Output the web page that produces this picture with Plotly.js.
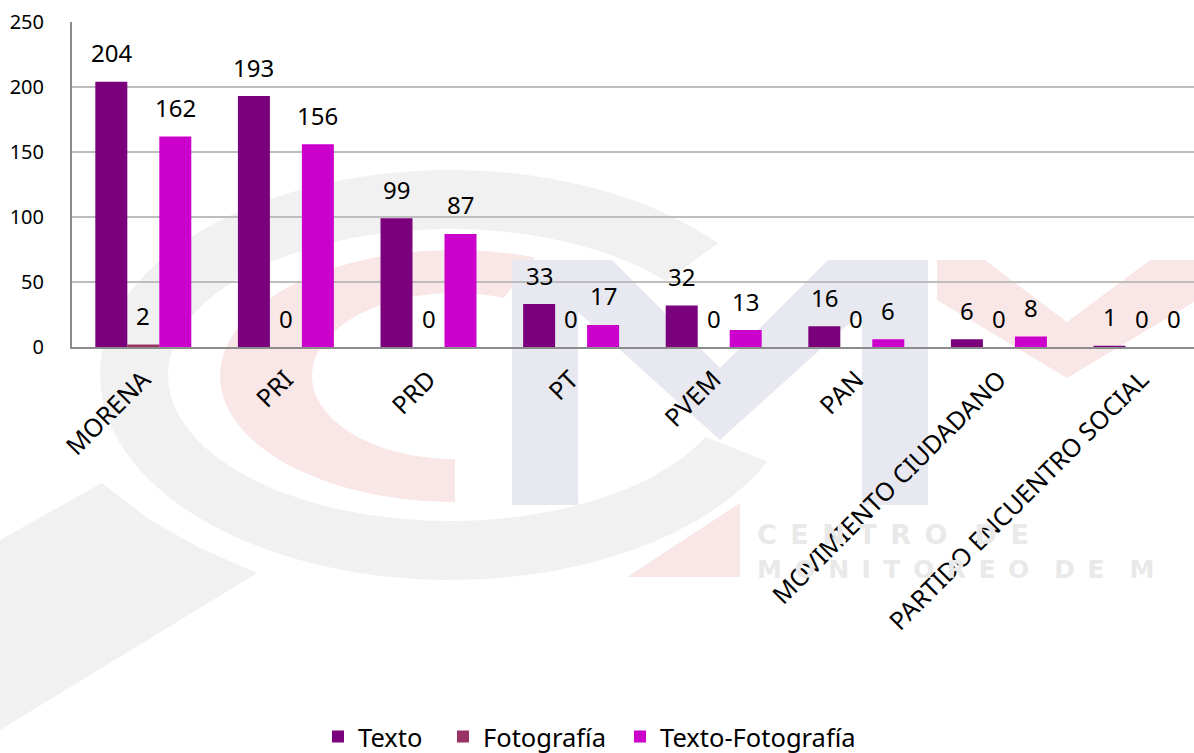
<!DOCTYPE html>
<html>
<head>
<meta charset="utf-8">
<script src="https://cdn.plot.ly/plotly-3.0.1.min.js"></script>
<style>html,body{margin:0;padding:0;background:#fff;}#chart{width:1194px;height:753px;}</style>
</head>
<body>
<div id="chart"></div>
<script>
// ---- data ----
const categories = ["MORENA", "PRI", "PRD", "PT", "PVEM", "PAN", "MOVIMIENTO CIUDADANO", "PARTIDO ENCUENTRO SOCIAL"];
const seriesNames = ["Texto", "Fotografía", "Texto-Fotografía"];
const texto = [204, 193, 99, 33, 32, 16, 6, 1];
const fotografia = [2, 0, 0, 0, 0, 0, 0, 0];
const textoFotografia = [162, 156, 87, 17, 13, 6, 8, 0];
const yTicks = [0, 50, 100, 150, 200, 250];

// ---- style ----
const colors = ["#7B007B", "#993366", "#CC00CC"];
const FONT = "'Noto Sans', 'Open Sans', sans-serif";
const W = 1194, H = 753;
const M = {l: 72, r: 0, t: 22, b: 406};
const xRange = [-0.5, 7.368];
const bargap = 0.327;
const legendX = [318, 443, 620];   // left edge of each legend entry (px)

const plotW = W - M.l - M.r, plotH = H - M.t - M.b;
const catPx = plotW / (xRange[1] - xRange[0]);
const barPx = catPx * (1 - bargap) / 3;

const series = [texto, fotografia, textoFotografia];
const legendIds = ["legend", "legend2", "legend3"];
const traces = series.map((vals, i) => ({
  type: "bar",
  name: seriesNames[i],
  x: categories,
  y: vals,
  legend: legendIds[i],
  marker: {color: colors[i]},
  hoverinfo: "x+y+name"
}));

// data labels
const annotations = [];
series.forEach((vals, i) => {
  vals.forEach((v, j) => {
    annotations.push({
      x: categories[j], y: v, xref: "x", yref: "y",
      text: String(v), showarrow: false,
      xshift: (i - 1) * barPx, yshift: 29, yanchor: "middle",
      font: {family: FONT, size: 24, color: "#000"}
    });
  });
});

// ---- faint background watermark (decoration) ----
const PX = x => (x - M.l) / plotW;
const PY = y => (H - M.b - y) / plotH;
function poly(pts) {
  return "M" + pts.map(p => PX(p[0]).toFixed(4) + "," + PY(p[1]).toFixed(4)).join(" L") + " Z";
}
function ring(cx, cy, rxo, ryo, rxi, ryi, t0, t1) {
  const pts = [];
  const n = 80;
  for (let k = 0; k <= n; k++) {
    const t = (t0 + (t1 - t0) * k / n) * Math.PI / 180;
    pts.push([cx + rxo * Math.cos(t), cy - ryo * Math.sin(t)]);
  }
  for (let k = n; k >= 0; k--) {
    const t = (t0 + (t1 - t0) * k / n) * Math.PI / 180;
    pts.push([cx + rxi * Math.cos(t), cy - ryi * Math.sin(t)]);
  }
  return poly(pts);
}
function wm(path, color) {
  return {type: "path", xref: "paper", yref: "paper", path: path,
          fillcolor: color, line: {width: 0}, layer: "below"};
}
const gray = "#f1f1f1", pink = "#f9e7e7", blue = "#e8e8f0";
const shapes = [
  wm(poly([[0, 540], [102, 483], [150, 520], [200, 548], [257, 573], [0, 730]]), gray),
  wm(ring(450, 375, 350, 205, 282, 146, 40, 335), gray),
  wm(ring(455, 376, 235, 126, 143, 83, 70, 270), pink),
  wm(poly([[627, 577], [740, 503], [740, 577]]), pink),
  wm(poly([[512, 260], [578, 260], [578, 505], [512, 505]]), blue),
  wm(poly([[862, 260], [928, 260], [928, 505], [862, 505]]), blue),
  wm(poly([[578, 260], [612, 260], [720, 368], [828, 260], [862, 260], [862, 312], [720, 440], [578, 312]]), blue),
  wm(poly([[937, 260], [985, 260], [1067, 322], [1150, 260], [1194, 260], [1194, 302], [1067, 378], [937, 300]]), pink)
];
const SP = "\u2002";
const spaced = s => s.split("").join(SP);
annotations.push({
  xref: "paper", yref: "paper", x: PX(755), y: PY(534), xanchor: "left", yanchor: "middle",
  text: spaced("CENTRO") + SP + SP + spaced("DE"), showarrow: false,
  font: {family: "'DejaVu Sans', sans-serif", size: 27, color: "#e9e9e9", weight: 700}
});
annotations.push({
  xref: "paper", yref: "paper", x: PX(755), y: PY(569), xanchor: "left", yanchor: "middle",
  text: spaced("MONITOREO") + SP + SP + spaced("DE") + SP + SP + "M", showarrow: false,
  font: {family: "'DejaVu Sans', sans-serif", size: 25, color: "#e9e9e9", weight: 700}
});

function legendAt(px) {
  return {
    orientation: "h", xref: "container", yref: "container",
    x: px / W, xanchor: "left", y: 16 / H, yanchor: "middle",
    font: {family: FONT, size: 25.5, color: "#000"},
    bgcolor: "rgba(0,0,0,0)", borderwidth: 0
  };
}

const layout = {
  width: W, height: H,
  margin: M,
  paper_bgcolor: "#ffffff",
  plot_bgcolor: "rgba(0,0,0,0)",
  barmode: "group",
  bargap: bargap,
  bargroupgap: 0,
  showlegend: true,
  legend: legendAt(legendX[0]),
  legend2: legendAt(legendX[1]),
  legend3: legendAt(legendX[2]),
  xaxis: {
    type: "category",
    range: xRange,
    showline: true, linecolor: "#8c8c8c", linewidth: 2,
    showgrid: false, zeroline: false,
    ticks: "", tickangle: -45,
    ticklabelstandoff: 6,
    tickfont: {family: FONT, size: 25, color: "#000"},
    fixedrange: true
  },
  yaxis: {
    range: [0, 250],
    tickvals: yTicks,
    ticktext: yTicks.map(String),
    showline: true, linecolor: "#8c8c8c", linewidth: 2,
    showgrid: true, gridcolor: "#bdbdbd", gridwidth: 1.5,
    zeroline: false,
    ticks: "",
    ticklabelstandoff: 22,
    tickfont: {family: FONT, size: 20, color: "#000"},
    fixedrange: true
  },
  shapes: shapes,
  annotations: annotations
};

Plotly.newPlot("chart", traces, layout, {displayModeBar: false, staticPlot: true});
</script>
</body>
</html>
